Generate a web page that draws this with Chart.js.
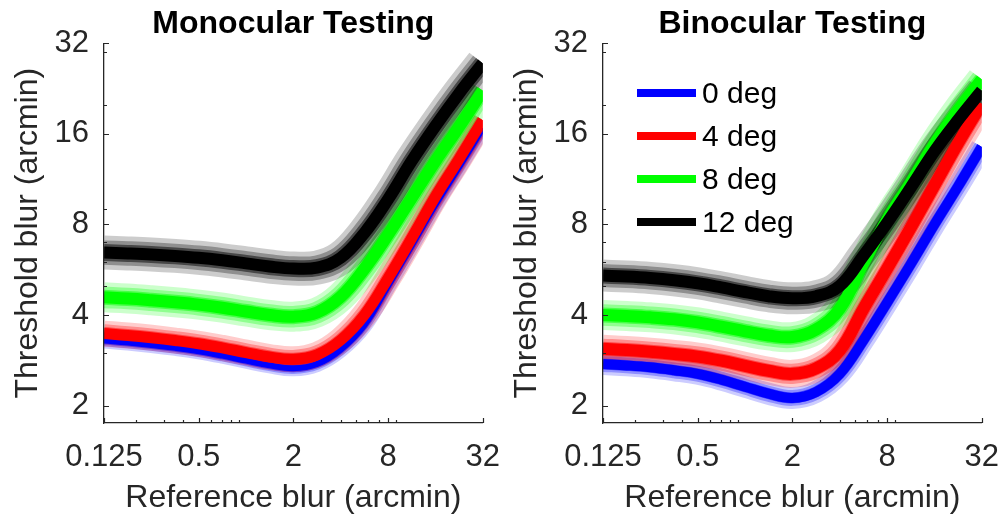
<!DOCTYPE html>
<html lang="en">
<head>
<meta charset="UTF-8">
<title>Threshold blur vs reference blur</title>
<script src="https://cdn.jsdelivr.net/npm/chart.js"></script>
<style>
  body { margin: 0; background: #ffffff; font-family: 'Liberation Sans', Arial, sans-serif; }
  #wrap { position: relative; width: 1002px; height: 514px; overflow: hidden; }
  .panel { position: absolute; top: 0; }
  #legend { position: absolute; left: 637px; top: 71px; }
  .item { display: flex; align-items: center; height: 43px; }
  .swatch { width: 59px; height: 8px; margin-right: 6px; }
  .item span { font-size: 30px; color: #000000; line-height: 43px; }
</style>
</head>
<body>
<div id="wrap">
  <canvas id="mono" class="panel" style="left:0px" width="516" height="514"></canvas>
  <canvas id="bino" class="panel" style="left:499px" width="516" height="514"></canvas>
  <div id="legend"></div>
</div>
<script>
// reference blur (arcmin), half-octave steps
const xValues = [0.125, 0.177, 0.25, 0.354, 0.5, 0.707, 1, 1.41, 2, 2.83, 4, 5.66, 8, 11.3, 16, 22.6, 32];

// monocular testing: threshold blur (arcmin)
const monoBlue  = [3.29, 3.24, 3.18, 3.11, 3.03, 2.93, 2.82, 2.72, 2.66, 2.75, 3.07, 3.70, 5.0, 6.8, 9.3, 12.4, 16.7];
const monoRed   = [3.47, 3.42, 3.36, 3.29, 3.21, 3.11, 3.00, 2.90, 2.85, 2.95, 3.30, 4.00, 5.3, 7.2, 9.9, 13.2, 17.8];
const monoGreen = [4.58, 4.54, 4.48, 4.41, 4.33, 4.23, 4.11, 4.00, 3.95, 4.08, 4.60, 5.70, 7.4, 9.8, 13.0, 16.9, 22.3];
const monoBlack = [6.45, 6.41, 6.36, 6.29, 6.20, 6.08, 5.94, 5.80, 5.71, 5.75, 6.20, 7.50, 9.7, 13.0, 17.0, 21.8, 27.5];

// binocular testing: threshold blur (arcmin)
const binoBlue  = [2.75, 2.72, 2.68, 2.62, 2.55, 2.44, 2.31, 2.19, 2.12, 2.22, 2.55, 3.30, 4.4, 5.9, 8.0, 10.7, 14.5];
const binoRed   = [3.09, 3.06, 3.02, 2.97, 2.91, 2.82, 2.71, 2.61, 2.55, 2.66, 3.05, 4.20, 5.7, 7.8, 10.8, 14.9, 20.2];
const binoGreen = [4.00, 3.97, 3.93, 3.87, 3.78, 3.66, 3.53, 3.42, 3.38, 3.58, 4.20, 5.95, 8.3, 11.0, 14.8, 19.2, 24.3];
const binoBlack = [5.41, 5.37, 5.31, 5.22, 5.10, 4.94, 4.77, 4.62, 4.55, 4.62, 5.00, 6.30, 8.1, 10.6, 14.0, 17.8, 22.3];

const conditions = ['0 deg', '4 deg', '8 deg', '12 deg'];

const xTicks = [0.125, 0.5, 2, 8, 32];
const xTickLabels = ['0.125', '0.5', '2', '8', '32'];
const yTicks = [2, 4, 8, 16, 32];
const yTickLabels = ['2', '4', '8', '16', '32'];
const xMinorTicks = [0.2, 0.3, 0.4, 0.6, 0.7, 0.8, 0.9, 3, 4, 5, 6, 7, 9];
const yMinorTicks = [3, 5, 6, 7, 9, 20, 30];

// styles
const rgb = ['0,0,255', '255,0,0', '0,255,0', '0,0,0'];
const bandLayers = [{ w: 1, a: 0.2 }, { w: 0.72, a: 0.3 }, { w: 0.5, a: 0.5 }];
const axisColor = '#262626';
const fontFamily = "'Liberation Sans', Arial, Helvetica, sans-serif";

// MATLAB-style ticks pointing into the plot
const inwardTicks = {
  id: 'inwardTicks',
  afterDatasetsDraw(chart) {
    const { ctx, chartArea: a, scales: { x, y } } = chart;
    ctx.save();
    ctx.strokeStyle = axisColor;
    ctx.lineWidth = 1.2;
    ctx.beginPath();
    xTicks.forEach(v => { const p = Math.round(x.getPixelForValue(v)) + 0.5; ctx.moveTo(p, a.bottom); ctx.lineTo(p, a.bottom - 5); });
    xMinorTicks.forEach(v => { const p = Math.round(x.getPixelForValue(v)) + 0.5; ctx.moveTo(p, a.bottom); ctx.lineTo(p, a.bottom - 3); });
    yTicks.forEach(v => { const p = Math.round(y.getPixelForValue(v)) + 0.5; ctx.moveTo(a.left, p); ctx.lineTo(a.left + 5, p); });
    yMinorTicks.forEach(v => { const p = Math.round(y.getPixelForValue(v)) + 0.5; ctx.moveTo(a.left, p); ctx.lineTo(a.left + 3, p); });
    ctx.stroke();
    ctx.restore();
  }
};

function lineSet(vals, color, width, order) {
  return {
    data: xValues.map((x, i) => ({ x: x, y: vals[i] })),
    borderColor: color,
    borderWidth: width,
    pointRadius: 0,
    fill: false,
    tension: 0.4,
    borderJoinStyle: 'round',
    clip: 0,
    order: order
  };
}

function makeChart(id, title, series, bandW, coreW) {
  const datasets = [];
  let order = 100;
  series.forEach((vals, k) => {
    bandLayers.forEach(layer => {
      datasets.push(lineSet(vals, 'rgba(' + rgb[k] + ',' + layer.a + ')', bandW[k] * layer.w, order--));
    });
  });
  series.forEach((vals, k) => {
    datasets.push(lineSet(vals, 'rgb(' + rgb[k] + ')', coreW[k], order--));
  });

  return new Chart(document.getElementById(id), {
    type: 'line',
    data: { datasets: datasets },
    options: {
      responsive: false,
      animation: false,
      events: [],
      layout: { padding: 0 },
      plugins: {
        legend: { display: false },
        tooltip: { enabled: false },
        title: {
          display: true,
          text: title,
          fullSize: false,
          color: '#000000',
          font: { family: fontFamily, size: 32, weight: 'bold', lineHeight: 1.2 },
          padding: { top: 5, bottom: 0 }
        }
      },
      scales: {
        x: {
          type: 'logarithmic',
          min: 0.125,
          max: 32,
          afterBuildTicks: scale => { scale.ticks = xTicks.map(v => ({ value: v })); },
          afterFit: scale => { scale.height = 91; },
          grid: { display: false, drawTicks: false },
          border: { display: true, color: axisColor, width: 1.3, z: 1 },
          ticks: {
            autoSkip: false,
            maxRotation: 0,
            padding: 16,
            color: axisColor,
            font: { family: fontFamily, size: 31 },
            callback: (v, i) => xTickLabels[i]
          },
          title: {
            display: true,
            text: 'Reference blur (arcmin)',
            color: axisColor,
            font: { family: fontFamily, size: 32, lineHeight: 1 },
            padding: { top: 0, bottom: 0 }
          }
        },
        y: {
          type: 'logarithmic',
          min: 1.75,
          max: 32,
          afterBuildTicks: scale => { scale.ticks = yTicks.map(v => ({ value: v })); },
          afterFit: scale => { scale.width = 104; },
          grid: { display: false, drawTicks: false },
          border: { display: true, color: axisColor, width: 1.3, z: 1 },
          ticks: {
            autoSkip: false,
            padding: 15,
            color: axisColor,
            font: { family: fontFamily, size: 31 },
            callback: (v, i) => yTickLabels[i]
          },
          title: {
            display: true,
            text: 'Threshold blur (arcmin)',
            color: axisColor,
            font: { family: fontFamily, size: 32, lineHeight: 1.2 },
            padding: { top: 9, bottom: 0 }
          }
        }
      }
    },
    plugins: [inwardTicks]
  });
}

makeChart('mono', 'Monocular Testing', [monoBlue, monoRed, monoGreen, monoBlack], [16, 26, 30, 34], [6, 11, 12, 12]);
makeChart('bino', 'Binocular Testing', [binoBlue, binoRed, binoGreen, binoBlack], [22, 28, 30, 32], [10, 12, 12, 12]);

// legend for the binocular panel
const legend = document.getElementById('legend');
conditions.forEach((name, k) => {
  const item = document.createElement('div');
  item.className = 'item';
  const sw = document.createElement('div');
  sw.className = 'swatch';
  sw.style.background = 'rgb(' + rgb[k] + ')';
  const label = document.createElement('span');
  label.textContent = name;
  item.appendChild(sw);
  item.appendChild(label);
  legend.appendChild(item);
});
</script>
</body>
</html>
